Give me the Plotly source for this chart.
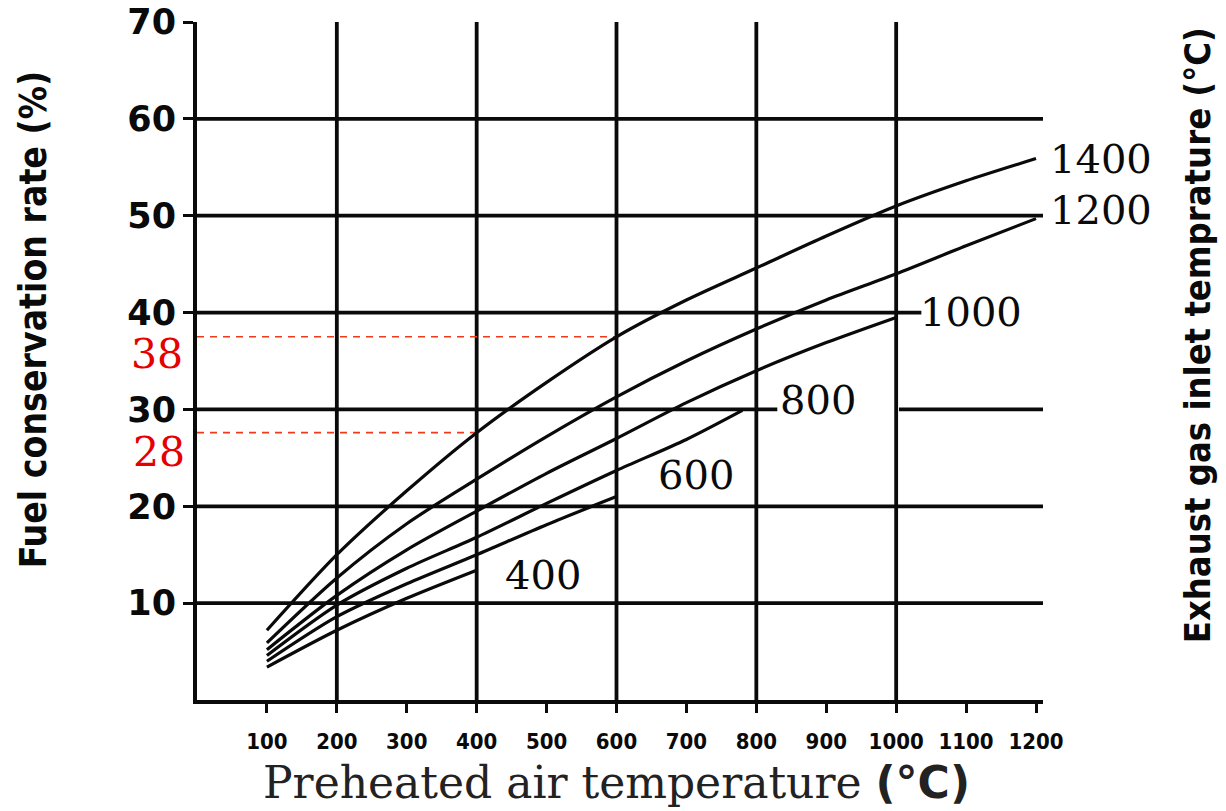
import plotly.graph_objects as go

# ---------------- data ----------------
air_temp_1400 = [100, 200, 300, 400, 500, 600, 700, 800, 900, 1000, 1100, 1200]
rate_1400 = [7.2, 15.0, 21.6, 27.6, 32.8, 37.5, 41.3, 44.6, 47.9, 51.0, 53.6, 55.9]

air_temp_1200 = [100, 200, 300, 400, 500, 600, 700, 800, 900, 1000, 1100, 1200]
rate_1200 = [5.9, 12.6, 18.2, 22.8, 27.2, 31.3, 35.0, 38.3, 41.3, 44.0, 46.9, 49.7]

air_temp_1000 = [100, 200, 300, 400, 500, 600, 700, 800, 900, 1000]
rate_1000 = [5.2, 10.8, 15.5, 19.5, 23.4, 27.0, 30.7, 34.0, 36.9, 39.5]

air_temp_800 = [100, 200, 300, 400, 500, 600, 700, 780]
rate_800 = [4.6, 9.8, 13.6, 16.8, 20.3, 23.7, 26.9, 29.9]

air_temp_600 = [100, 200, 300, 400, 500, 600]
rate_600 = [4.0, 8.6, 12.0, 15.0, 18.1, 21.0]

air_temp_400 = [100, 200, 300, 400]
rate_400 = [3.4, 7.2, 10.5, 13.4]

curve_names = ["1400", "1200", "1000", "800", "600", "400"]

x_tick_values = [100, 200, 300, 400, 500, 600, 700, 800, 900, 1000, 1100, 1200]
x_tick_labels = ["100", "200", "300", "400", "500", "600", "700", "800", "900", "1000", "1100", "1200"]
y_tick_values = [10, 20, 30, 40, 50, 60, 70]
y_tick_labels = ["10", "20", "30", "40", "50", "60", "70"]

vgrid_values = [200, 400, 600, 800, 1000]
hgrid_levels = [10, 20, 30, 40, 50, 60]
hgrid_spans = {
    10: [(0, 1210)],
    20: [(0, 1210)],
    30: [(0, 830), (1004, 1210)],
    40: [(0, 1036)],
    50: [(0, 1210)],
    60: [(0, 1210)],
}

# reference readings (red dashed lines)
ref_air_temp = [600, 400]
ref_rate = [37.5, 27.6]
ref_labels = ["38", "28"]

# ---------------- style ----------------
X_MAX = 1210
Y_MAX = 70
BLACK = "#0a0a0a"
RED = "#e60000"
GRID_W = 3.8
CURVE_W = 3.2
COND = "DejaVu Sans Condensed, Liberation Sans Narrow, DejaVu Sans"

label_offsets = {  # pixel offsets of curve labels from curve ends
    "1400": dict(xanchor="left", xshift=12, yshift=0),
    "1200": dict(xanchor="left", xshift=12, yshift=9),
    "1000": dict(xanchor="left", xshift=22, yshift=5),
    "800": dict(xanchor="left", xshift=36, yshift=10),
    "600": dict(xanchor="center", xshift=79, yshift=22),
    "400": dict(xanchor="center", xshift=66, yshift=-5),
}

fig = go.Figure()

# vertical grid lines
vx, vy = [], []
for v in vgrid_values:
    vx += [v, v, None]
    vy += [0, Y_MAX, None]
fig.add_trace(go.Scatter(x=vx, y=vy, mode="lines", line=dict(color=BLACK, width=GRID_W),
                         hoverinfo="skip", showlegend=False))

# horizontal grid lines
hx, hy = [], []
for lvl in hgrid_levels:
    for a, b in hgrid_spans[lvl]:
        hx += [a, b, None]
        hy += [lvl, lvl, None]
fig.add_trace(go.Scatter(x=hx, y=hy, mode="lines", line=dict(color=BLACK, width=GRID_W),
                         hoverinfo="skip", showlegend=False))

# red dashed reference lines
for xt, yv in zip(ref_air_temp, ref_rate):
    fig.add_trace(go.Scatter(x=[0, xt], y=[yv, yv], mode="lines",
                             line=dict(color="#f03a1a", width=1.6, dash="7px,6px"),
                             hoverinfo="skip", showlegend=False))

curves = [
    (air_temp_1400, rate_1400),
    (air_temp_1200, rate_1200),
    (air_temp_1000, rate_1000),
    (air_temp_800, rate_800),
    (air_temp_600, rate_600),
    (air_temp_400, rate_400),
]

annotations = []
for name, (xs, ys) in zip(curve_names, curves):
    fig.add_trace(go.Scatter(x=xs, y=ys, mode="lines", name=name,
                             line=dict(color=BLACK, width=CURVE_W, shape="spline", smoothing=0.8),
                             showlegend=False))
    off = label_offsets[name]
    annotations.append(dict(x=xs[-1], y=ys[-1], xref="x", yref="y", text=name,
                            showarrow=False, yanchor="middle",
                            font=dict(family="DejaVu Serif", size=40, color=BLACK), **off))

for yv, lab, dx, dy in zip(ref_rate, ref_labels, [-40, -38], [-17, -19]):
    annotations.append(dict(x=0, y=yv, xref="x", yref="y", text=lab, showarrow=False,
                            xanchor="center", yanchor="middle", xshift=dx, yshift=dy,
                            font=dict(family="DejaVu Serif", size=41, color=RED)))

# axis titles
annotations.append(dict(
    x=0.496, y=-0.121, xref="paper", yref="paper", showarrow=False,
    xanchor="center", yanchor="middle",
    text="Preheated air temperature <span style='font-family:DejaVu Sans'><b>(°C)</b></span>",
    font=dict(family="DejaVu Serif", size=44, color="#222")))
annotations.append(dict(
    x=-0.193, y=0.561, xref="paper", yref="paper", showarrow=False, textangle=-90,
    xanchor="center", yanchor="middle",
    text="<b>Fuel conservation rate (%)</b>",
    font=dict(family=COND, size=37, color=BLACK)))
annotations.append(dict(
    x=1.182, y=0.538, xref="paper", yref="paper", showarrow=False, textangle=-90,
    xanchor="center", yanchor="middle",
    text="<b>Exhaust gas inlet temprature (°C)</b>",
    font=dict(family=COND, size=36, color=BLACK)))

fig.update_layout(
    width=1226, height=811,
    margin=dict(l=197, r=183, t=22, b=111, autoexpand=False),
    paper_bgcolor="white", plot_bgcolor="white",
    annotations=annotations,
    showlegend=False,
)
fig.update_xaxes(
    range=[0, X_MAX], showgrid=False, zeroline=False, automargin=False,
    showline=True, linecolor=BLACK, linewidth=4,
    tickmode="array", tickvals=x_tick_values, ticktext=x_tick_labels,
    ticks="outside", ticklen=9, tickwidth=2.5, tickcolor=BLACK,
    ticklabelstandoff=10,
    tickfont=dict(family=COND, size=22, color=BLACK, weight="bold"),
)
fig.update_yaxes(
    range=[0, Y_MAX], showgrid=False, zeroline=False, automargin=False,
    showline=True, linecolor=BLACK, linewidth=4,
    tickmode="array", tickvals=y_tick_values, ticktext=y_tick_labels,
    ticks="outside", ticklen=10, tickwidth=3, tickcolor=BLACK,
    tickfont=dict(family="DejaVu Sans", size=35, color=BLACK, weight="bold"),
)

fig.write_html("out.html", config={"displayModeBar": False},
               post_script="document.body.style.margin='0';")
